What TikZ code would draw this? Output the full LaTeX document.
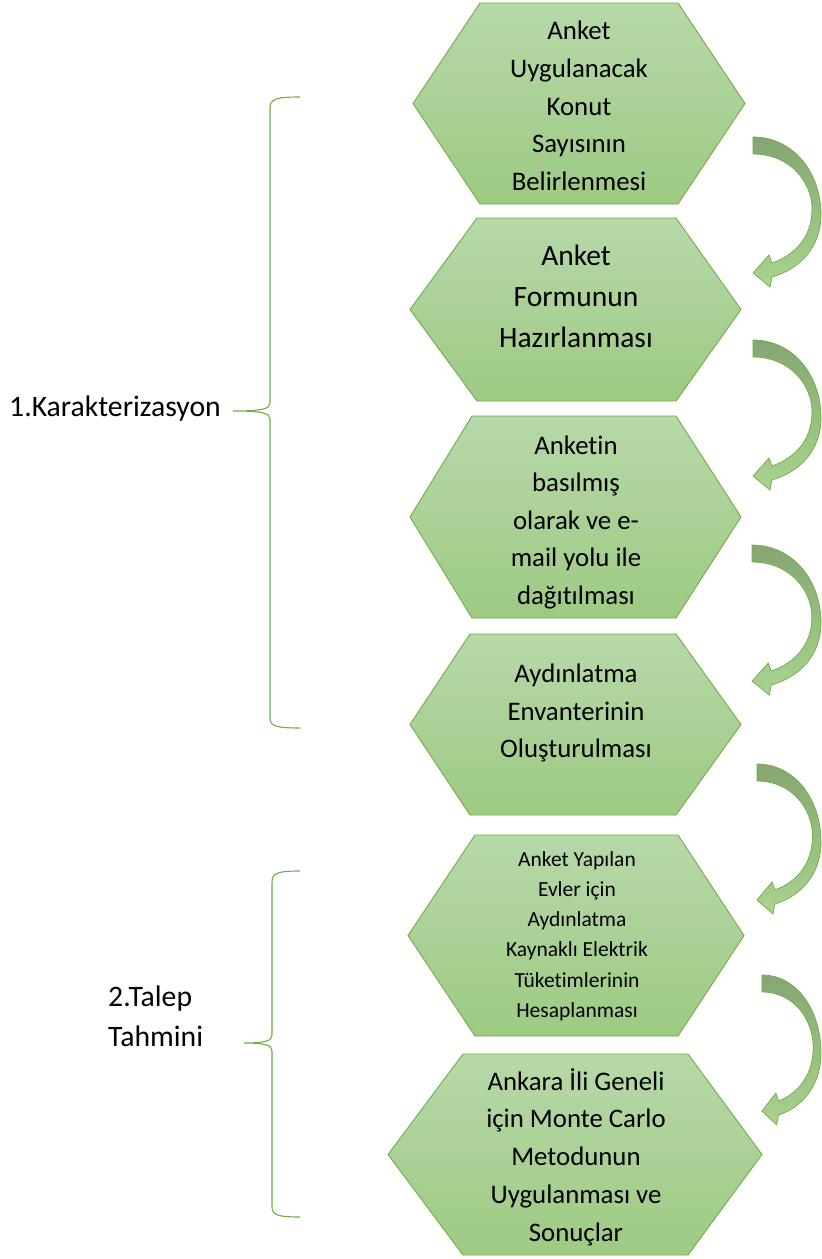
\documentclass[tikz,border=0pt]{standalone}
\usepackage{fontspec}
\setmainfont[Ligatures={NoCommon}]{Carlito}
\definecolor{hexline}{RGB}{112,173,71}
\definecolor{hextop}{RGB}{183,216,169}
\definecolor{hexbot}{RGB}{158,202,131}
\definecolor{arrtop}{RGB}{134,165,115}
\definecolor{arrmid}{RGB}{150,190,125}
\definecolor{arrbot}{RGB}{170,211,145}
\tikzset{
  hexshape/.style={draw=hexline, line width=0.9pt, top color=hextop, bottom color=hexbot},
  hextext/.style={align=center, inner sep=0pt, text=black},
  arrowshape/.style={draw=hexline, line width=0.7pt, top color=arrtop, bottom color=arrbot, middle color=arrmid},
  bracestyle/.style={draw=hexline, line width=1.1pt},
  sidelabel/.style={inner sep=0pt, text=black, font=\fontsize{29.7}{40}\selectfont}
}
\newcommand\hexagon[7]{% left, topleft, topright, right, top, bottom, name
  \path[hexshape] (#1,{(#5+#6)/2}) -- (#2,#5) -- (#3,#5) -- (#4,{(#5+#6)/2}) -- (#3,#6) -- (#2,#6) -- cycle;
  \coordinate (#7c) at ({(#1+#4)/2},{(#5+#6)/2});
}
\newcommand\curvedarr[3]{% x0, y0, width
  \begin{scope}[shift={(#1,#2)}, xscale=#3/68]
    \path[arrowshape] (0,0) .. controls (40,0) and (68,35) .. (68,78)
      .. controls (68,110) and (47,132) .. (19,140) -- (17,150) -- (0,136)
      -- (16,118) -- (19,126) .. controls (42,118) and (59,100) .. (59,72)
      .. controls (59,45) and (37,17) .. (0,17) -- cycle;
  \end{scope}
}
\begin{document}
\begin{tikzpicture}[x=1pt, y=-1pt]
\useasboundingbox (0,0) rectangle (822,1259);
\fill[white] (0,0) rectangle (822,1259);

\hexagon{413}{480}{678}{745}{3}{204}{h1}
\hexagon{410}{477}{676}{741}{218}{401}{h2}
\hexagon{410}{472}{676}{741}{416}{618}{h3}
\hexagon{410}{470}{676}{741}{634}{815}{h4}
\hexagon{408}{475}{678}{744}{835}{1036}{h5}
\hexagon{388}{463}{688}{762}{1054}{1255}{h6}

\node[hextext, font=\fontsize{26.8}{37.7}\selectfont] (t1) at (579,106) {Anket\\Uygulanacak\\Konut\\Sayısının\\Belirlenmesi};
\node[hextext, font=\fontsize{29.5}{41}\selectfont] (t2) at (576,296) {Anket\\Formunun\\Hazırlanması};
\node[hextext, font=\fontsize{26.8}{37.5}\selectfont] (t3) at (576,522) {Anketin\\basılmış\\olarak ve e-\\mail yolu ile\\dağıtılması};
\node[hextext, font=\fontsize{26.8}{37.5}\selectfont] (t4) at (576,713) {Aydınlatma\\Envanterinin\\Oluşturulması};
\node[hextext, font=\fontsize{21.5}{30.2}\selectfont] (t5) at (577,936) {Anket Yapılan\\Evler için\\Aydınlatma\\Kaynaklı Elektrik\\Tüketimlerinin\\Hesaplanması};
\node[hextext, font=\fontsize{26.8}{37.7}\selectfont] (t6) at (576,1157) {Ankara İli Geneli\\için Monte Carlo\\Metodunun\\Uygulanması ve\\Sonuçlar};

\curvedarr{753}{137}{68}
\curvedarr{753}{340}{68}
\curvedarr{752}{545}{69}
\curvedarr{757}{764}{64}
\curvedarr{762}{975}{59}

\coordinate (b1top) at (300,97);
\coordinate (b1tip) at (233,411);
\coordinate (b1bot) at (300,728);
\path[bracestyle] (b1top) .. controls (276,97) and (270,99) .. (270,108) -- (270,403)
  .. controls (270,409) and (262,411) .. (b1tip) .. controls (262,411) and (270,413) .. (270,419)
  -- (270,718) .. controls (270,726) and (276,728) .. (b1bot);
\coordinate (b2top) at (300,871);
\coordinate (b2tip) at (244,1043);
\coordinate (b2bot) at (300,1217);
\path[bracestyle] (b2top) .. controls (278,871) and (272,873) .. (272,882) -- (272,1035)
  .. controls (272,1041) and (265,1043) .. (b2tip) .. controls (265,1043) and (272,1045) .. (272,1051)
  -- (272,1207) .. controls (272,1215) and (278,1217) .. (b2bot);

\node[sidelabel, anchor=center] (l1) at (115,409) {1.Karakterizasyon};
\node[sidelabel, align=left, anchor=west] (l2) at (108,1016) {2.Talep\\Tahmini};
\end{tikzpicture}
\end{document}
